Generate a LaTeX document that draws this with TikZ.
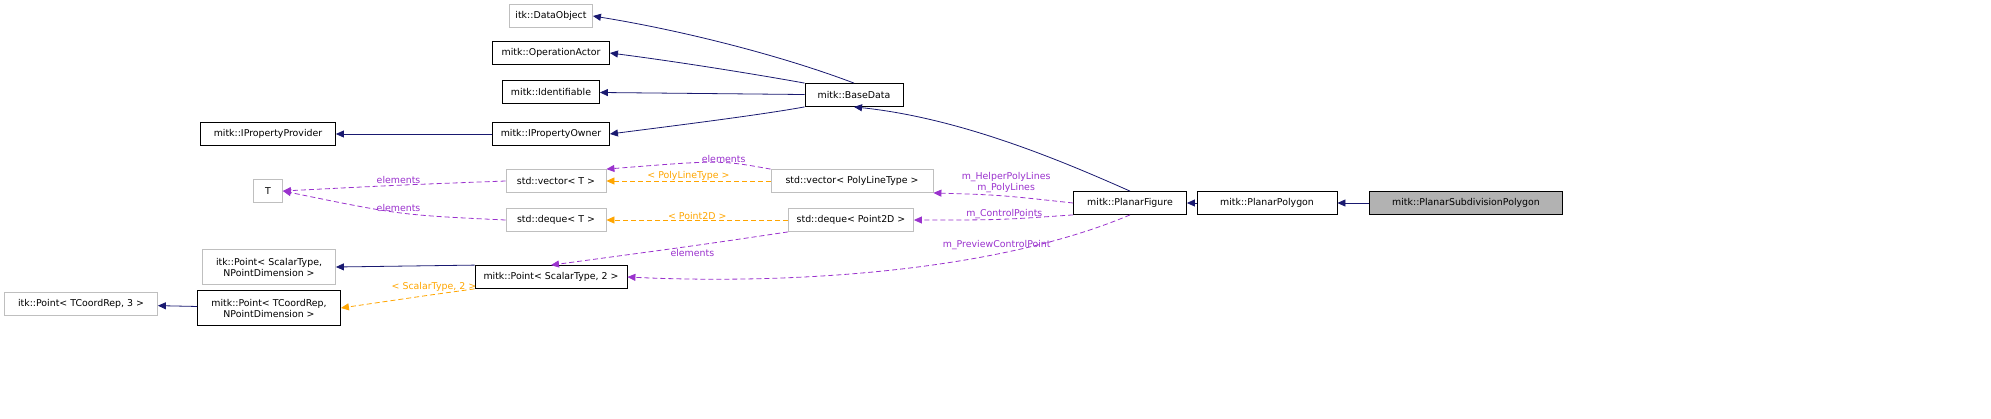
\documentclass[tikz,border=0pt]{standalone}
\usepackage{fontspec}
\setmainfont{DejaVu Sans}
\usetikzlibrary{arrows.meta}
\definecolor{navy}{HTML}{191970}
\definecolor{tmpl}{HTML}{FFA500}
\definecolor{memb}{HTML}{9A32CD}
\definecolor{grayline}{HTML}{BFBFBF}
\begin{document}
\begin{tikzpicture}[x=0.5pt,y=-0.5pt,
  font=\fontsize{4.7}{5.5}\selectfont,
  cls/.style={draw=black,fill=white,inner sep=0pt,minimum height=11.5pt,align=center,line width=0.4pt},
  ext/.style={cls,draw=grayline},
  me/.style={cls,fill=gray!60},
  inh/.style={navy,-{Triangle[length=4pt,width=3.5pt]},line width=0.4pt},
  tpl/.style={tmpl,dashed,dash pattern=on 2.5pt off 1.5pt,-{Triangle[length=4pt,width=3.5pt]},line width=0.4pt},
  mem/.style={memb,dashed,dash pattern=on 2.5pt off 1.5pt,-{Triangle[length=4pt,width=3.5pt]},line width=0.4pt},
  lbl/.style={inner sep=0.5pt}]
\useasboundingbox (0,0) rectangle (1991,418);
% classes
\node[ext,minimum width=41.5pt] (dataobj) at (551,16) {itk::DataObject};
\node[cls,minimum width=58.5pt] (opactor) at (551,53) {mitk::OperationActor};
\node[cls,minimum width=48.5pt] (ident) at (551,92) {mitk::Identifiable};
\node[cls,minimum width=67.5pt] (propprov) at (268,134) {mitk::IPropertyProvider};
\node[cls,minimum width=58.5pt] (propown) at (551,134) {mitk::IPropertyOwner};
\node[cls,minimum width=49pt] (basedata) at (854,95) {mitk::BaseData};
\node[ext,minimum width=14.5pt] (T) at (268,191) {T};
\node[ext,minimum width=50pt] (vecT) at (556,181) {std::vector< T >};
\node[ext,minimum width=50pt] (dequeT) at (556,220) {std::deque< T >};
\node[ext,minimum width=81pt] (vecpoly) at (852,181) {std::vector< PolyLineType >};
\node[ext,minimum width=62.5pt] (dequept) at (851,220) {std::deque< Point2D >};
\node[cls,minimum width=56.5pt] (figure) at (1130,203) {mitk::PlanarFigure};
\node[cls,minimum width=70pt] (polygon) at (1267,203) {mitk::PlanarPolygon};
\node[me,minimum width=96.5pt] (subdiv) at (1466,203) {mitk::PlanarSubdivisionPolygon};
\node[ext,minimum width=66.5pt,minimum height=17.5pt] (itkpoint) at (269,267) {itk::Point< ScalarType,\\NPointDimension >};
\node[cls,minimum width=76pt] (mitkpoint) at (551,277) {mitk::Point< ScalarType, 2 >};
\node[ext,minimum width=76.5pt] (itkpoint3) at (81,304) {itk::Point< TCoordRep, 3 >};
\node[cls,minimum width=71.5pt,minimum height=17.5pt] (mitkpointT) at (269,308) {mitk::Point< TCoordRep,\\NPointDimension >};
% inheritance
\draw[inh] (basedata.north) .. controls (780,55) and (680,30) .. (dataobj.east);
\draw[inh] (basedata.north west) .. controls (760,75) and (680,62) .. (opactor.east);
\draw[inh] (basedata) -- (ident);
\draw[inh] (basedata.south west) .. controls (760,115) and (680,125) .. (propown.east);
\draw[inh] (propown) -- (propprov);
\draw[inh] (figure.north) .. controls (1060,160) and (960,118) .. (basedata.south);
\draw[inh] (polygon) -- (figure);
\draw[inh] (subdiv) -- (polygon);
\draw[inh] (mitkpoint.north west) -- (itkpoint.east);
\draw[inh] (mitkpointT) -- (itkpoint3);
% templates
\draw[tpl] (vecpoly.west) -- (vecT.east) node[lbl,midway,above=-0.5pt] {< PolyLineType >};
\draw[tpl] (dequept) -- (dequeT) node[lbl,midway,above=-0.5pt] {< Point2D >};
\draw[tpl] (mitkpoint.south west) .. controls (430,295) .. (mitkpointT.east) node[lbl,pos=0.4,above=1pt] {< ScalarType, 2 >};
% members
\draw[mem] (vecpoly.north west) .. controls (720,160) .. (vecT.north east) node[lbl,pos=0.4,above=-0.5pt] {elements};
\draw[mem] (vecT.west) .. controls (400,185) .. (T.east) node[lbl,midway,above=0pt] {elements};
\draw[mem] (dequeT.west) .. controls (400,215) .. (T.east) node[lbl,midway,above=0pt] {elements};
\draw[mem] (dequept.south west) .. controls (700,245) .. (mitkpoint.north) node[lbl,pos=0.5,below=1pt] {elements};
\draw[mem] (figure.west) .. controls (1000,195) .. (vecpoly.south east) node[lbl,pos=0.45,above=1pt,align=center] {m\_HelperPolyLines\\m\_PolyLines};
\draw[mem] (figure.south west) .. controls (1000,220) .. (dequept.east) node[lbl,pos=0.45,above=-0.5pt] {m\_ControlPoints};
\draw[mem] (figure.south) .. controls (1000,270) and (800,285) .. (mitkpoint.east) node[lbl,pos=0.3,above=1.5pt] {m\_PreviewControlPoint};
\end{tikzpicture}
\end{document}
